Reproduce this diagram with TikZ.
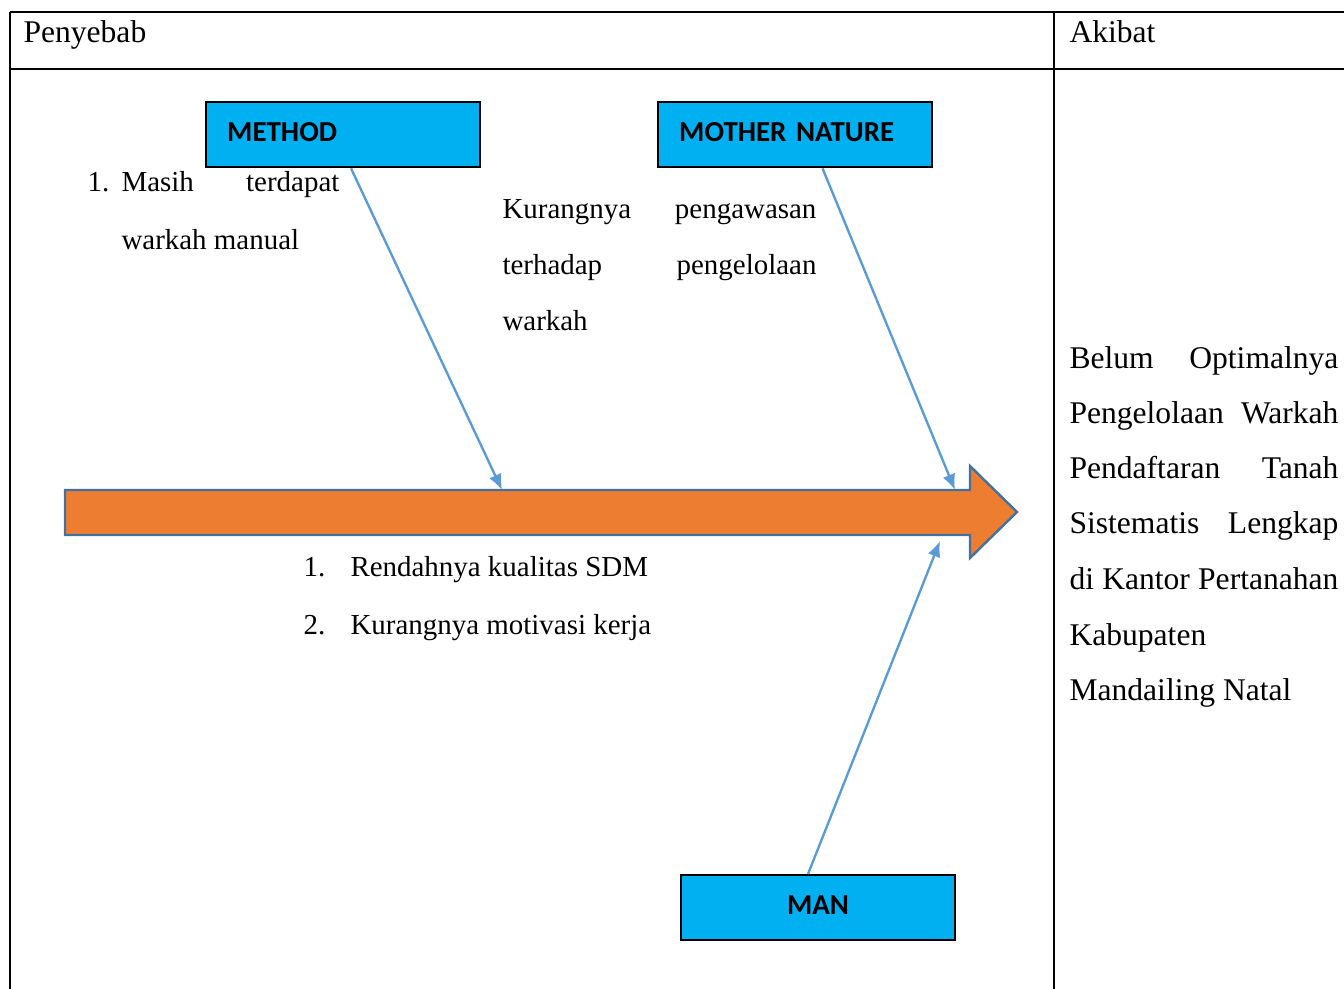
\documentclass[tikz,border=0pt]{standalone}
\usepackage{fontspec}
\setmainfont{Liberation Serif}
\newfontfamily\labelfont{Carlito}
\usetikzlibrary{arrows.meta,calc}
\definecolor{boxcyan}{HTML}{00B0F0}
\definecolor{arroworange}{HTML}{ED7D31}
\definecolor{arrowedge}{HTML}{41719C}
\definecolor{boneblue}{HTML}{5B9BD5}
\begin{document}
\begin{tikzpicture}[x=0.38pt, y=-0.38pt,
  rule/.style={line width=0.8pt},
  catbox/.style={draw=black, line width=0.9pt, fill=boxcyan, text=black,
    minimum width=104pt, minimum height=24.7pt, inner xsep=8pt, text width=88pt,
    text depth=2pt, font=\labelfont\bfseries\fontsize{11}{13}\selectfont},
  headtext/.style={anchor=base west, inner sep=0pt, font=\fontsize{12}{14}\selectfont},
  causetext/.style={anchor=base west, inner sep=0pt, font=\fontsize{11}{13}\selectfont},
  bone/.style={draw=boneblue, line width=0.9pt, -{Latex[length=6pt,width=5pt]}}]
\useasboundingbox (0,0) rectangle (1344,989);
% table
\draw[rule] (10,12) -- (1350,12);
\draw[rule] (10,69) -- (1350,69);
\draw[rule] (10,12) -- (10,995);
\draw[rule] (1054,12) -- (1054,995);
\node[headtext] (cause) at (23,43) {Penyebab};
\node[headtext] (effect) at (1069,43) {Akibat};
% spine
\draw[draw=arrowedge, line width=0.9pt, fill=arroworange]
  (65,490) -- (970,490) -- (970,466) -- (1017,512) -- (970,558) -- (970,535) -- (65,535) -- cycle;
\coordinate (methodhit) at (502,490);
\coordinate (naturehit) at (955,490);
\coordinate (manhit) at (940,541);
% categories
\node[catbox, anchor=north west, align=left] (method) at (205,101) {METHOD};
\node[catbox, anchor=north west, align=left] (nature) at (657,101) {MOTHER NATURE};
\node[catbox, anchor=north west, align=center] (man) at (680,874) {MAN};
\draw[bone] ($(method.south)+(8,0)$) -- (methodhit);
\draw[bone] ($(nature.south)+(27.5,0)$) -- (naturehit);
\draw[bone] ($(man.north)+(-10,0)$) -- (manhit);
% causes
\node[causetext] (mnum) at (87,192) {1.};
\node[causetext] (mline1) at (121,192) {\makebox[82.8pt][s]{Masih terdapat}};
\node[causetext] (mline2) at (121,249) {warkah manual};
\node[causetext] (nline1) at (502,218) {\makebox[119.3pt][s]{Kurangnya pengawasan}};
\node[causetext] (nline2) at (502,275) {\makebox[119.3pt][s]{terhadap pengelolaan}};
\node[causetext] (nline3) at (502,331) {warkah};
\node[causetext] (mannum1) at (303,576) {1.};
\node[causetext] (manline1) at (350,576) {Rendahnya kualitas SDM};
\node[causetext] (mannum2) at (303,634) {2.};
\node[causetext] (manline2) at (350,634) {Kurangnya motivasi kerja};
% effect
\foreach \txt [count=\i] in {Belum Optimalnya, Pengelolaan Warkah, Pendaftaran Tanah, Sistematis Lengkap, di Kantor Pertanahan} {
  \node[headtext] (res\i) at (1069,{368+55.3*(\i-1)}) {\makebox[102.2pt][s]{\txt}};
}
\node[headtext] (res6) at (1069,645) {Kabupaten};
\node[headtext] (res7) at (1069,700) {Mandailing Natal};
\end{tikzpicture}
\end{document}
